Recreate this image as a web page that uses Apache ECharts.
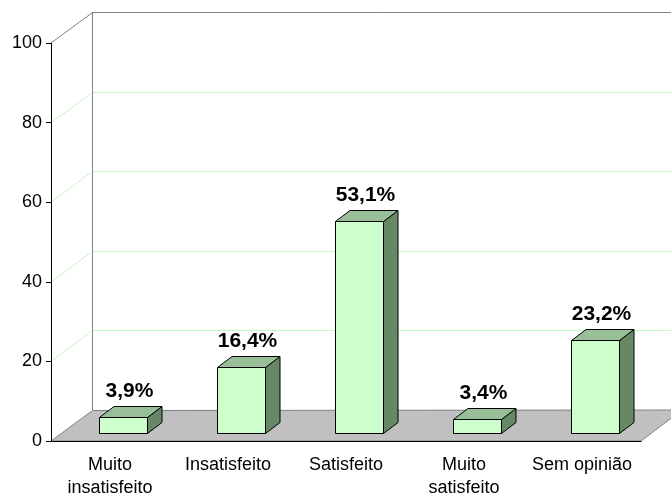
<!DOCTYPE html>
<html>
<head>
<meta charset="utf-8">
<script src="https://cdn.jsdelivr.net/npm/echarts@6/dist/echarts.min.js"></script>
<style>
html, body { margin: 0; padding: 0; background: #fff; }
#chart { width: 671px; height: 500px; }
</style>
</head>
<body>
<div id="chart"></div>
<script>
// data
var categories = ['Muito\ninsatisfeito', 'Insatisfeito', 'Satisfeito', 'Muito\nsatisfeito', 'Sem opinião'];
var values = [3.9, 16.4, 53.1, 3.4, 23.2];
var valueLabels = ['3,9%', '16,4%', '53,1%', '3,4%', '23,2%'];
var wallTicks = [20, 40, 60, 80];

// fake 3d: depth of the floor and of the bars (px)
var DX = 41, DY = -31;
var FRONT_X = 12.5, FRONT_Y = -8.5;
var BAR_X = 14.5, BAR_Y = -11;
var FONT = '"Liberation Sans", Arial, sans-serif';

var myChart = echarts.init(document.getElementById('chart'));

function crisp(v) { return Math.round(v) + 0.5; }

function renderWalls(params, api) {
    var cs = params.coordSys;
    var left = cs.x, right = cs.x + cs.width, top = cs.y, bottom = cs.y + cs.height;
    var bx = crisp(left + DX);
    var kids = [];
    var gray = {stroke: '#808080', lineWidth: 1};
    wallTicks.forEach(function (v) {
        var y = api.coord([0, v])[1];
        var yb = crisp(y + DY);
        kids.push({type: 'polyline', shape: {points: [[left, y], [bx, yb], [right + DX + 10, yb]]},
            style: {stroke: '#c4f7c4', lineWidth: 1, fill: null}});
    });
    // back wall border + side wall top edge
    kids.push({type: 'polyline', shape: {points: [[left, top], [bx, crisp(top + DY)], [right + DX + 10, crisp(top + DY)]]},
        style: {stroke: '#808080', lineWidth: 1, fill: null}});
    kids.push({type: 'line', shape: {x1: bx, y1: top + DY, x2: bx, y2: bottom + DY}, style: gray});
    // floor
    kids.push({type: 'polygon', shape: {points: [[left, bottom], [right, bottom], [right + DX, bottom + DY], [bx, crisp(bottom + DY)]]},
        style: {fill: '#c0c0c0', stroke: '#808080', lineWidth: 1}});
    return {type: 'group', children: kids};
}

function renderBar(params, api) {
    var i = api.value(0), v = api.value(1);
    var base = api.coord([i, 0]);
    var tp = api.coord([i, v]);
    var w = api.size([1, 0])[0] * 0.4;
    var x0 = crisp(base[0] - w / 2 + FRONT_X), x1 = crisp(x0 + w);
    var yb = crisp(base[1] + FRONT_Y), yt = crisp(tp[1] + FRONT_Y);
    var line = {stroke: '#000', lineWidth: 1};
    return {
        type: 'group',
        children: [
            {type: 'polygon', shape: {points: [[x1, yt], [x1 + BAR_X, yt + BAR_Y], [x1 + BAR_X, yb + BAR_Y], [x1, yb]]},
                style: Object.assign({fill: '#668866'}, line)},
            {type: 'polygon', shape: {points: [[x0, yt], [x1, yt], [x1 + BAR_X, yt + BAR_Y], [x0 + BAR_X, yt + BAR_Y]]},
                style: Object.assign({fill: '#99bf99'}, line)},
            {type: 'rect', shape: {x: x0, y: yt, width: x1 - x0, height: yb - yt},
                style: Object.assign({fill: '#ccffcc'}, line)},
            {type: 'text', style: {text: valueLabels[params.dataIndex], x: (x0 + x1) / 2 + 6, y: yt + BAR_Y - 15,
                align: 'center', verticalAlign: 'middle', fill: '#000',
                fontSize: 21, fontWeight: 'bold', fontFamily: FONT}}
        ]
    };
}

option = {
    animation: false,
    backgroundColor: '#fff',
    grid: {left: 51, right: 30, top: 43, bottom: 58},
    xAxis: {
        type: 'category',
        data: categories,
        z: 10,
        axisLine: {lineStyle: {color: '#000', width: 1}},
        axisTick: {length: 6, lineStyle: {color: '#000'}},
        axisLabel: {interval: 0, color: '#000', fontSize: 18, lineHeight: 23, margin: 13, fontFamily: FONT},
        splitLine: {show: false}
    },
    yAxis: {
        type: 'value',
        min: 0,
        max: 100,
        interval: 20,
        z: 10,
        axisLine: {show: true, lineStyle: {color: '#000', width: 1}},
        axisTick: {show: true, length: 5, lineStyle: {color: '#000'}},
        axisLabel: {color: '#000', fontSize: 18, margin: 9, fontFamily: FONT},
        splitLine: {show: false}
    },
    series: [
        {
            type: 'custom',
            silent: true,
            z: 1,
            renderItem: renderWalls,
            data: [[0, 0]],
            clip: false
        },
        {
            type: 'custom',
            z: 3,
            renderItem: renderBar,
            data: values.map(function (v, i) { return [i, v]; }),
            clip: false
        }
    ]
};

myChart.setOption(option);
</script>
</body>
</html>
